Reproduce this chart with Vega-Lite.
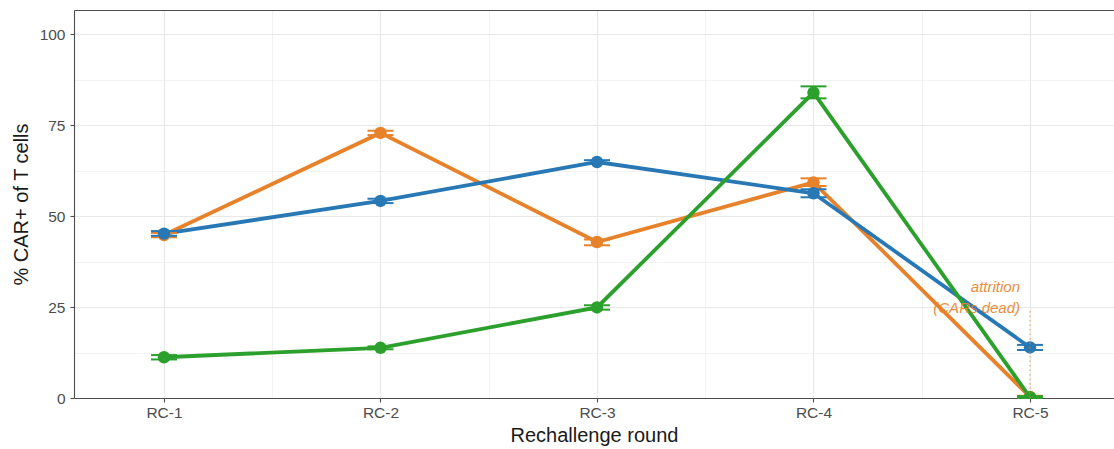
{
  "$schema": "https://vega.github.io/schema/vega-lite/v6.json",
  "width": 1040,
  "height": 388,
  "autosize": {"type": "none"},
  "padding": {"left": 74, "top": 10, "right": 0, "bottom": 51},
  "background": "white",
  "config": {
    "view": {"stroke": null},
    "font": "Liberation Sans",
    "axis": {
      "labelFont": "Liberation Sans",
      "titleFont": "Liberation Sans",
      "labelFontSize": 15.5,
      "labelColor": "#4d4d4d",
      "titleFontSize": 20,
      "titleFontWeight": "normal",
      "titleColor": "#1a1a1a",
      "domainColor": "#4d4d4d",
      "domainWidth": 1.1,
      "tickColor": "#4d4d4d",
      "tickWidth": 1.1,
      "tickSize": 4,
      "gridColor": "#e8e8e8"
    }
  },
  "datasets": {
    "car": [
      {"series": "CAR 1", "round": 1, "pct": 44.8, "lo": 44.2, "hi": 45.4},
      {"series": "CAR 1", "round": 2, "pct": 72.9, "lo": 72.3, "hi": 73.5},
      {"series": "CAR 1", "round": 3, "pct": 42.9, "lo": 42.0, "hi": 43.6},
      {"series": "CAR 1", "round": 4, "pct": 59.3, "lo": 58.3, "hi": 60.4},
      {"series": "CAR 1", "round": 5, "pct": 0.3, "lo": 0.0, "hi": 0.6},
      {"series": "CAR 2", "round": 1, "pct": 45.2, "lo": 44.6, "hi": 45.9},
      {"series": "CAR 2", "round": 2, "pct": 54.2, "lo": 53.6, "hi": 54.8},
      {"series": "CAR 2", "round": 3, "pct": 64.9, "lo": 64.4, "hi": 65.4},
      {"series": "CAR 2", "round": 4, "pct": 56.3, "lo": 55.2, "hi": 57.4},
      {"series": "CAR 2", "round": 5, "pct": 13.9, "lo": 13.2, "hi": 14.6},
      {"series": "CAR 3", "round": 1, "pct": 11.2, "lo": 10.6, "hi": 11.8},
      {"series": "CAR 3", "round": 2, "pct": 13.8, "lo": 13.4, "hi": 14.2},
      {"series": "CAR 3", "round": 3, "pct": 24.9, "lo": 24.3, "hi": 25.5},
      {"series": "CAR 3", "round": 4, "pct": 84.0, "lo": 82.4, "hi": 85.7},
      {"series": "CAR 3", "round": 5, "pct": 0.2, "lo": 0.0, "hi": 0.5}
    ],
    "note": [
      {"round": 5, "from": 0, "to": 24, "pct": 30.5, "label": "attrition\n(CARs dead)"}
    ]
  },
  "layer": [
    {
      "data": {"name": "car"},
      "mark": {"type": "line", "strokeWidth": 3.8},
      "encoding": {
        "x": {
          "field": "round", "type": "quantitative",
          "scale": {"domain": [0.5843, 5.388], "nice": false, "zero": false},
          "axis": {
            "orient": "bottom",
            "title": "Rechallenge round",
            "values": [1, 1.5, 2, 2.5, 3, 3.5, 4, 4.5, 5],
            "labelExpr": "datum.value % 1 === 0 ? 'RC-' + datum.value : ''",
            "labelPadding": 3,
            "titlePadding": 5,
            "tickOpacity": {"condition": {"test": "datum.value % 1 === 0", "value": 1}, "value": 0},
            "gridWidth": {"condition": {"test": "datum.value % 1 === 0", "value": 1.1}, "value": 0.55}
          }
        },
        "y": {
          "field": "pct", "type": "quantitative",
          "title": "% CAR+ of T cells",
          "scale": {"domain": [0, 106.7], "nice": false},
          "axis": {
            "values": [0, 12.5, 25, 37.5, 50, 62.5, 75, 87.5, 100],
            "labelExpr": "datum.value % 25 === 0 ? datum.label : ''",
            "labelPadding": 5,
            "titlePadding": 8,
            "tickOpacity": {"condition": {"test": "datum.value % 25 === 0", "value": 1}, "value": 0},
            "gridWidth": {"condition": {"test": "datum.value % 25 === 0", "value": 1.1}, "value": 0.55}
          }
        },
        "color": {
          "field": "series", "type": "nominal",
          "scale": {"domain": ["CAR 1", "CAR 2", "CAR 3"], "range": ["#e8822a", "#2878b5", "#2ca02c"]},
          "legend": null
        }
      }
    },
    {
      "data": {"name": "car"},
      "mark": {"type": "rule", "strokeWidth": 2},
      "encoding": {
        "x": {"field": "round", "type": "quantitative", "axis": null},
        "y": {"field": "lo", "type": "quantitative", "title": "% CAR+ of T cells"},
        "y2": {"field": "hi"},
        "color": {"field": "series", "type": "nominal", "legend": null}
      }
    },
    {
      "data": {"name": "car"},
      "mark": {"type": "tick", "orient": "horizontal", "size": 26, "thickness": 2, "opacity": 1},
      "encoding": {
        "x": {"field": "round", "type": "quantitative", "axis": null},
        "y": {"field": "lo", "type": "quantitative", "title": "% CAR+ of T cells"},
        "color": {"field": "series", "type": "nominal", "legend": null}
      }
    },
    {
      "data": {"name": "car"},
      "mark": {"type": "tick", "orient": "horizontal", "size": 26, "thickness": 2, "opacity": 1},
      "encoding": {
        "x": {"field": "round", "type": "quantitative", "axis": null},
        "y": {"field": "hi", "type": "quantitative", "title": "% CAR+ of T cells"},
        "color": {"field": "series", "type": "nominal", "legend": null}
      }
    },
    {
      "data": {"name": "car"},
      "mark": {"type": "circle", "size": 155, "opacity": 1, "clip": true},
      "encoding": {
        "x": {"field": "round", "type": "quantitative", "axis": null},
        "y": {"field": "pct", "type": "quantitative", "title": "% CAR+ of T cells"},
        "color": {"field": "series", "type": "nominal", "legend": null}
      }
    },
    {
      "data": {"name": "note"},
      "mark": {"type": "rule", "color": "#e8822a", "strokeWidth": 1, "strokeDash": [1.5, 3], "opacity": 0.8},
      "encoding": {
        "x": {"field": "round", "type": "quantitative", "axis": null},
        "y": {"field": "from", "type": "quantitative", "title": "% CAR+ of T cells"},
        "y2": {"field": "to"}
      }
    },
    {
      "data": {"name": "note"},
      "mark": {
        "type": "text", "align": "right", "baseline": "middle", "dx": -10,
        "fontStyle": "italic", "fontSize": 15, "lineBreak": "\n", "lineHeight": 21,
        "color": "#e8822a", "opacity": 0.9
      },
      "encoding": {
        "x": {
          "field": "round", "type": "quantitative",
          "axis": {"orient": "top", "title": null, "labels": false, "ticks": false, "grid": false, "domain": true}
        },
        "y": {"field": "pct", "type": "quantitative", "title": "% CAR+ of T cells"},
        "text": {"field": "label"}
      }
    }
  ],
  "resolve": {"axis": {"x": "independent"}}
}
